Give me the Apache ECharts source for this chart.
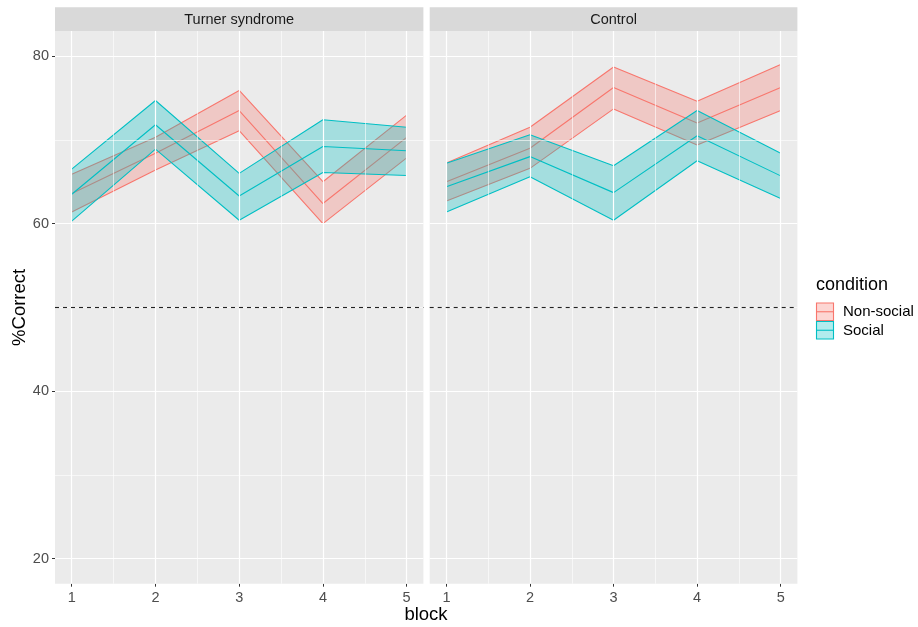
<!DOCTYPE html>
<html>
<head>
<meta charset="utf-8">
<script src="https://cdn.jsdelivr.net/npm/echarts@6/dist/echarts.min.js"></script>
<style>html,body{margin:0;padding:0;background:#fff;}#c{width:918px;height:627px;}</style>
</head>
<body>
<div id="c"></div>
<script>
const blocks = [1, 2, 3, 4, 5];
const panels = ['Turner syndrome', 'Control'];
const conditions = ['Non-social', 'Social'];
const yTicks = [20, 40, 60, 80];
const yMinor = [30, 50, 70];
const xMinor = [1.5, 2.5, 3.5, 4.5];
const chanceLevel = 50;

const turnerNonSocialMean  = [63.6, 68.4, 73.5, 62.4, 70.3];
const turnerNonSocialLower = [61.4, 66.4, 71.1, 60.0, 67.85];
const turnerNonSocialUpper = [65.9, 70.3, 75.9, 65.0, 72.95];
const turnerSocialMean  = [63.5, 71.8, 63.3, 69.2, 68.7];
const turnerSocialLower = [60.3, 68.9, 60.4, 66.1, 65.75];
const turnerSocialUpper = [66.5, 74.7, 66.0, 72.4, 71.5];
const controlNonSocialMean  = [65.0, 69.0, 76.25, 72.0, 76.25];
const controlNonSocialLower = [62.7, 66.6, 73.7, 69.4, 73.5];
const controlNonSocialUpper = [67.25, 71.5, 78.7, 74.6, 79.0];
const controlSocialMean  = [64.4, 68.0, 63.7, 70.5, 65.7];
const controlSocialLower = [61.4, 65.6, 60.4, 67.5, 63.0];
const controlSocialUpper = [67.2, 70.6, 66.9, 73.5, 68.4];

const colors = {'Non-social': '#F8766D', 'Social': '#00BFC4'};
const fills = {'Non-social': 'rgba(248,118,109,0.3)', 'Social': 'rgba(0,191,196,0.3)'};

const dataSets = [
  [
    {cond: 'Non-social', mean: turnerNonSocialMean, lower: turnerNonSocialLower, upper: turnerNonSocialUpper},
    {cond: 'Social', mean: turnerSocialMean, lower: turnerSocialLower, upper: turnerSocialUpper}
  ],
  [
    {cond: 'Non-social', mean: controlNonSocialMean, lower: controlNonSocialLower, upper: controlNonSocialUpper},
    {cond: 'Social', mean: controlSocialMean, lower: controlSocialLower, upper: controlSocialUpper}
  ]
];

const FONT = 'Liberation Sans, Arial, sans-serif';
const gridTop = 31, gridBottomY = 583.7;
const grids = [
  {left: 55, top: gridTop, width: 368.4, height: gridBottomY - gridTop},
  {left: 429.7, top: gridTop, width: 367.7, height: gridBottomY - gridTop}
];

const xAxes = grids.map((g, i) => ({
  type: 'value', gridIndex: i, min: 0.8, max: 5.2,
  axisLine: {show: false},
  splitLine: {show: false},
  axisTick: {show: true, length: 3, lineStyle: {color: '#333', width: 1}, customValues: blocks},
  axisLabel: {color: '#4D4D4D', fontSize: 14.5, fontFamily: FONT, margin: 7, customValues: blocks}
}));
const yAxes = grids.map((g, i) => ({
  type: 'value', gridIndex: i, min: 17, max: 83,
  axisLine: {show: false},
  splitLine: {show: false},
  axisTick: {show: i === 0, length: 3, lineStyle: {color: '#333', width: 1}, customValues: yTicks},
  axisLabel: {show: i === 0, color: '#4D4D4D', fontSize: 14.5, fontFamily: FONT, margin: 6, customValues: yTicks}
}));

function ribbonRenderer(d) {
  return function (params, api) {
    if (params.dataIndex !== 0) return null;
    const pts = [];
    blocks.forEach((b, k) => pts.push(api.coord([b, d.upper[k]])));
    for (let k = blocks.length - 1; k >= 0; k--) pts.push(api.coord([blocks[k], d.lower[k]]));
    return {type: 'polygon', shape: {points: pts}, style: {fill: fills[d.cond], stroke: 'none'}, silent: true};
  };
}

const series = [];
grids.forEach((g, i) => {
  const glData = [];
  yMinor.forEach(v => glData.push({yAxis: v, lineStyle: {color: '#fff', width: 0.6, type: 'solid'}}));
  xMinor.forEach(v => glData.push({xAxis: v, lineStyle: {color: '#fff', width: 0.6, type: 'solid'}}));
  yTicks.forEach(v => glData.push({yAxis: v, lineStyle: {color: '#fff', width: 1.2, type: 'solid'}}));
  blocks.forEach(v => glData.push({xAxis: v, lineStyle: {color: '#fff', width: 1.2, type: 'solid'}}));
  series.push({
    type: 'line', xAxisIndex: i, yAxisIndex: i, data: [], z: 0, silent: true,
    markLine: {silent: true, symbol: ['none', 'none'], label: {show: false}, animation: false, data: glData}
  });
  dataSets[i].forEach((d, ci) => {
    const z = 2 + ci;
    series.push({
      type: 'custom', xAxisIndex: i, yAxisIndex: i, z: z, silent: true, animation: false,
      renderItem: ribbonRenderer(d),
      data: blocks.map((b, k) => [b, d.lower[k], d.upper[k]]),
      encode: {x: 0, y: [1, 2]}
    });
    ['lower', 'upper', 'mean'].forEach(key => {
      series.push({
        type: 'line', xAxisIndex: i, yAxisIndex: i, z: z,
        data: blocks.map((b, k) => [b, d[key][k]]),
        symbol: 'none', lineStyle: {color: colors[d.cond], width: 1.1}, silent: true, animation: false
      });
    });
  });
  series.push({
    type: 'line', xAxisIndex: i, yAxisIndex: i, data: [], z: 5, silent: true,
    markLine: {silent: true, symbol: ['none', 'none'], label: {show: false}, animation: false,
      data: [{yAxis: chanceLevel, lineStyle: {color: '#222', width: 1.1, type: [4, 4]}}]}
  });
});

const graphic = [];
grids.forEach((g, i) => {
  graphic.push({type: 'rect', shape: {x: g.left, y: 7.3, width: g.width, height: gridTop - 7.3}, style: {fill: '#D9D9D9'}, silent: true});
  graphic.push({type: 'text', x: g.left + g.width / 2, y: 19.5, style: {text: panels[i], fill: '#1A1A1A', font: '14.5px ' + FONT, textAlign: 'center', textVerticalAlign: 'middle'}, silent: true});
});
graphic.push({type: 'text', x: 20, y: (gridTop + gridBottomY) / 2, rotation: Math.PI / 2,
  style: {text: '%Correct', fill: '#000', font: '18.5px ' + FONT, textAlign: 'center', textVerticalAlign: 'middle'}, silent: true});
graphic.push({type: 'text', x: 426, y: 615, style: {text: 'block', fill: '#000', font: '18.5px ' + FONT, textAlign: 'center', textVerticalAlign: 'middle'}, silent: true});
graphic.push({type: 'text', x: 816, y: 285, style: {text: 'condition', fill: '#000', font: '18px ' + FONT, textAlign: 'left', textVerticalAlign: 'middle'}, silent: true});
conditions.forEach((c, k) => {
  const y0 = 303 + k * 18.5;
  graphic.push({type: 'rect', shape: {x: 816.5, y: y0, width: 17, height: 17.5}, style: {fill: fills[c], stroke: colors[c], lineWidth: 1.1}, silent: true});
  graphic.push({type: 'line', shape: {x1: 816.5, y1: y0 + 8.75, x2: 833.5, y2: y0 + 8.75}, style: {stroke: colors[c], lineWidth: 1.1}, silent: true});
  graphic.push({type: 'text', x: 843, y: y0 + 9, style: {text: c, fill: '#000', font: '15px ' + FONT, textAlign: 'left', textVerticalAlign: 'middle'}, silent: true});
});

const chart = echarts.init(document.getElementById('c'), null, {renderer: 'canvas'});
chart.setOption({
  backgroundColor: '#fff',
  animation: false,
  grid: grids.map(g => Object.assign({show: true, backgroundColor: '#EBEBEB', borderWidth: 0, containLabel: false}, g)),
  xAxis: xAxes,
  yAxis: yAxes,
  series: series,
  graphic: graphic
});
</script>
</body>
</html>
